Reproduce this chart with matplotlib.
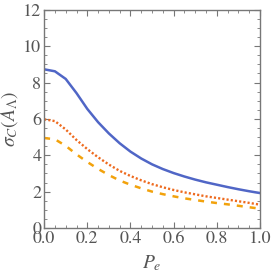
import numpy as np
import matplotlib
matplotlib.use("Agg")
import matplotlib.pyplot as plt
from matplotlib.ticker import MultipleLocator

plt.rcParams['font.family'] = ['STIXGeneral', 'DejaVu Serif']
plt.rcParams['mathtext.fontset'] = 'stix'

# values
pe = [0.0, 0.05, 0.1, 0.15, 0.2, 0.25, 0.3, 0.35, 0.4, 0.45, 0.5,
      0.55, 0.6, 0.65, 0.7, 0.75, 0.8, 0.85, 0.9, 0.95, 1.0]
sigma_solid = [8.73, 8.62, 8.2, 7.42, 6.55, 5.82, 5.2, 4.66, 4.2, 3.82, 3.5,
               3.24, 3.02, 2.83, 2.66, 2.51, 2.38, 2.25, 2.13, 2.02, 1.92]
sigma_dotted = [5.98, 5.88, 5.42, 4.84, 4.34, 3.89, 3.49, 3.14, 2.86, 2.62, 2.41,
                2.24, 2.09, 1.96, 1.85, 1.74, 1.65, 1.56, 1.47, 1.38, 1.28]
sigma_dashed = [4.95, 4.88, 4.52, 4.05, 3.63, 3.25, 2.91, 2.61, 2.38, 2.18, 2.0,
                1.86, 1.74, 1.63, 1.54, 1.45, 1.37, 1.3, 1.22, 1.14, 1.06]

fig = plt.figure(figsize=(2.74, 2.74), dpi=100)
ax = fig.add_axes([0.161, 0.168, 0.788, 0.796])

ax.plot(pe, sigma_solid, color='#5066c6', lw=1.8)
ax.plot(pe, sigma_dotted, color='#ee6a1e', lw=1.7, ls=(0, (0.9, 0.9)))
ax.plot(pe, sigma_dashed, color='#f2a20c', lw=1.8, ls=(0, (2.4, 2.8)))

ax.set_xlim(0, 1)
ax.set_ylim(0, 12)
ax.xaxis.set_major_locator(MultipleLocator(0.2))
ax.xaxis.set_minor_locator(MultipleLocator(0.05))
ax.yaxis.set_major_locator(MultipleLocator(2))
ax.yaxis.set_minor_locator(MultipleLocator(0.5))
ax.xaxis.set_major_formatter(plt.FuncFormatter(lambda v, p: f"{v:.1f}"))

gray = '#777777'
for s in ax.spines.values():
    s.set_color(gray)
    s.set_linewidth(1.0)
ax.tick_params(which='both', direction='in', top=True, right=True,
               color=gray, labelcolor='#555555', labelsize=13)
ax.tick_params(which='major', length=4, width=0.8, pad=2)
ax.tick_params(which='minor', length=2, width=0.6)

ax.set_xlabel(r'$P_e$', fontsize=14, color='#555555', labelpad=5)
ax.set_ylabel(r'$\sigma_C(A_\Lambda)$', fontsize=14, color='#555555', labelpad=2)

fig.savefig('out.png', dpi=100)
